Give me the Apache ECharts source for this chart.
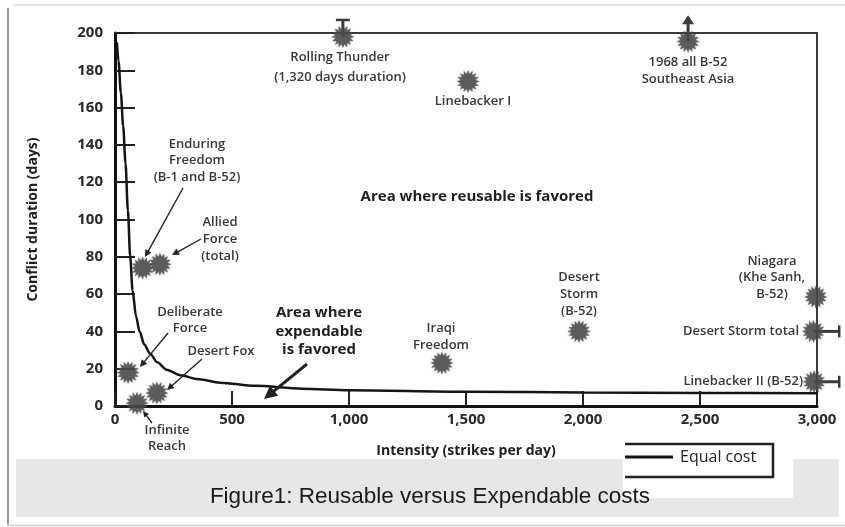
<!DOCTYPE html>
<html><head><meta charset="utf-8">
<script src="https://cdn.jsdelivr.net/npm/echarts@6/dist/echarts.min.js"></script>
<style>html,body{margin:0;padding:0;background:#fff}#c{width:845px;height:527px}</style>
</head><body><div id="c"></div>
<script>
// ---- data ----
const xTicks = [0, 500, 1000, 1500, 2000, 2500, 3000];
const yTicks = [0, 20, 40, 60, 80, 100, 120, 140, 160, 180, 200];
const curveX = [8, 15, 25, 35, 45, 55, 65, 75, 90, 105, 125, 150, 180, 220, 280, 350, 450, 600, 800, 1000, 1500, 2000, 2500, 3000];
const curveY = [195, 185, 168, 150, 130, 105, 80, 62, 48, 40, 33, 28, 23.5, 19.5, 16.5, 14.5, 12.5, 10.8, 9.3, 8.5, 7.7, 7.3, 7.0, 6.8];
const conflictNames = ['Rolling Thunder', 'Linebacker I', '1968 all B-52 Southeast Asia', 'Enduring Freedom (B-1 and B-52)', 'Allied Force (total)', 'Deliberate Force', 'Desert Fox', 'Infinite Reach', 'Iraqi Freedom', 'Desert Storm (B-52)', 'Niagara (Khe Sanh, B-52)', 'Desert Storm total', 'Linebacker II (B-52)'];
const conflictX = [974, 1509, 2449, 118, 192, 56, 179, 94, 1397, 1983, 2995, 2985, 2988];
const conflictY = [198, 174, 195.5, 74, 76, 18, 7, 1.5, 23, 40, 58.5, 40, 13];
// values that run off the chart: bar from the point to the edge
const extFromX = [974, 2449, 2985, 2988];
const extFromY = [198, 195.5, 40, 13];
const extToX = [974, 2449, 3095, 3095];
const extToY = [207, 208.5, 40, 13];
const extEnd = ['cap', 'arrow', 'cap', 'cap'];
const seriesName = 'Equal cost';

// ---- chart ----
const chart = echarts.init(document.getElementById('c'), null, {renderer: 'canvas'});
function starPath(n, rOut, rIn) {
  let d = '';
  for (let i = 0; i < 2 * n; i++) {
    const r = i % 2 ? rIn : rOut;
    const a = Math.PI * i / n - Math.PI / 2;
    d += (i ? 'L' : 'M') + (50 + r * Math.cos(a)).toFixed(2) + ' ' + (50 + r * Math.sin(a)).toFixed(2);
  }
  return 'path://' + d + 'Z';
}
const STAR = starPath(16, 50, 33);
const FONT = '"Open Sans", "Noto Sans", sans-serif';
const fmt = v => v >= 1000 ? Math.floor(v / 1000) + ',' + String(v % 1000).padStart(3, '0') : String(v);

const curveData = curveX.map((x, i) => [x, curveY[i]]);
const conflictData = conflictX.map((x, i) => ({name: conflictNames[i], value: [x, conflictY[i]]}));
const extData = extFromX.map((x, i) => [x, extFromY[i], extToX[i], extToY[i], i]);

// annotation text (pixel layout)
const notes = [
  {t: ['Rolling Thunder', '(1,320 days duration)'], x: 340, y: 57, lh: 20},
  {t: ['Linebacker I'], x: 473, y: 101},
  {t: ['1968 all B-52', 'Southeast Asia'], x: 688, y: 62, lh: 17},
  {t: ['Enduring', 'Freedom', '(B-1 and B-52)'], x: 197, y: 144, lh: 16.5},
  {t: ['Allied', 'Force', '(total)'], x: 220, y: 222.5, lh: 16.8},
  {t: ['Deliberate', 'Force'], x: 190, y: 312, lh: 16.5},
  {t: ['Desert Fox'], x: 221, y: 351},
  {t: ['Infinite', 'Reach'], x: 167, y: 430, lh: 16.7},
  {t: ['Iraqi', 'Freedom'], x: 441, y: 328, lh: 17},
  {t: ['Desert', 'Storm', '(B-52)'], x: 579, y: 277, lh: 17},
  {t: ['Niagara', '(Khe Sanh,', 'B-52)'], x: 772, y: 261, lh: 16.5},
  {t: ['Desert Storm total'], x: 799, y: 331, align: 'right'},
  {t: ['Linebacker II (B-52)'], x: 803, y: 381, align: 'right'}
];
const arrows = [
  {a: [183, 188], b: [145, 257], w: 1.4, h: 7},
  {a: [201, 239], b: [172, 255], w: 1.4, h: 7},
  {a: [168, 333], b: [140, 367], w: 1.4, h: 7},
  {a: [202, 359], b: [167, 390], w: 1.4, h: 7},
  {a: [152, 423], b: [143, 411], w: 1.4, h: 6},
  {a: [307, 364], b: [264, 399], w: 3, h: 13}
];

const graphics = [];
// outer frame & caption band
graphics.push({type: 'line', shape: {x1: 8, y1: 8, x2: 8, y2: 525}, style: {stroke: '#9a9a9a', lineWidth: 2}, z: 1});
graphics.push({type: 'line', shape: {x1: 14, y1: 5, x2: 845, y2: 5}, style: {stroke: '#e2e2e2', lineWidth: 2}, z: 1});
graphics.push({type: 'line', shape: {x1: 8, y1: 525.5, x2: 845, y2: 525.5}, style: {stroke: '#d0d0d0', lineWidth: 1.5}, z: 1});
graphics.push({type: 'rect', shape: {x: 16, y: 459, width: 823, height: 58}, style: {fill: '#e7e7e7'}, z: 0});
graphics.push({type: 'rect', shape: {x: 623, y: 440, width: 170, height: 58}, style: {fill: '#ffffff'}, z: 1});
graphics.push({type: 'polyline', shape: {points: [[625, 444], [773, 444], [773, 477], [625, 477]]}, style: {stroke: '#222', lineWidth: 2.5, fill: null}, z: 2});
graphics.push({type: 'text', x: 430, y: 497, style: {text: 'Figure1: Reusable versus Expendable costs', font: '22.5px "Liberation Sans Narrow", "Liberation Sans", Arial, sans-serif', fill: '#1a1a1a', textAlign: 'center', textVerticalAlign: 'middle'}, z: 3});
// region labels
graphics.push({type: 'text', x: 477, y: 197, style: {text: 'Area where reusable is favored', font: 'bold 15px ' + FONT, fill: '#1e1e1e', textAlign: 'center', textVerticalAlign: 'middle'}, z: 5});
['Area where', 'expendable', 'is favored'].forEach((s, i) => graphics.push({type: 'text', x: 319, y: 313 + i * 18.5, style: {text: s, font: 'bold 15px ' + FONT, fill: '#1e1e1e', textAlign: 'center', textVerticalAlign: 'middle'}, z: 5}));
notes.forEach(n => n.t.forEach((s, i) => graphics.push({type: 'text', x: n.x, y: n.y + i * (n.lh || 17), style: {text: s, font: '600 13px ' + FONT, fill: '#383838', textAlign: n.align || 'center', textVerticalAlign: 'middle'}, z: 5})));
arrows.forEach(r => {
  const dx = r.b[0] - r.a[0], dy = r.b[1] - r.a[1], L = Math.hypot(dx, dy);
  const ux = dx / L, uy = dy / L, px = -uy, py = ux, h = r.h, wh = h * 0.5;
  const bx = r.b[0] - ux * h, by = r.b[1] - uy * h;
  graphics.push({type: 'line', shape: {x1: r.a[0], y1: r.a[1], x2: bx + ux * 2, y2: by + uy * 2}, style: {stroke: '#222', lineWidth: r.w}, z: 6});
  graphics.push({type: 'polygon', shape: {points: [[r.b[0], r.b[1]], [bx + px * wh, by + py * wh], [bx - px * wh, by - py * wh]]}, style: {fill: '#222'}, z: 6});
});

const option = {
  animation: false,
  backgroundColor: '#ffffff',
  grid: {left: 115, right: 28, top: 33, bottom: 121, show: true, borderColor: '#3a3a3a', borderWidth: 2},
  legend: {
    data: [seriesName], left: 625, top: 449, padding: 0, itemWidth: 48, itemHeight: 3, itemGap: 6,
    icon: 'rect', textStyle: {fontFamily: FONT, fontSize: 16, color: '#222', padding: [0, 0, 0, 2]}
  },
  xAxis: {
    type: 'value', min: xTicks[0], max: xTicks[xTicks.length - 1], interval: 500,
    name: 'Intensity (strikes per day)', nameLocation: 'middle', nameGap: 38,
    nameTextStyle: {fontFamily: FONT, fontWeight: 'bold', fontSize: 14, color: '#1e1e1e'},
    axisLine: {lineStyle: {color: '#111', width: 3}},
    axisTick: {inside: true, length: 15, lineStyle: {color: '#222', width: 2}},
    axisLabel: {formatter: fmt, fontFamily: FONT, fontWeight: 'bold', fontSize: 15, color: '#2a2a2a', margin: 6},
    splitLine: {show: false}
  },
  yAxis: {
    type: 'value', min: yTicks[0], max: yTicks[yTicks.length - 1], interval: 20,
    name: 'Conflict duration (days)', nameLocation: 'middle', nameGap: 75, nameRotate: 90,
    nameTextStyle: {fontFamily: FONT, fontWeight: 'bold', fontSize: 14, color: '#1e1e1e'},
    axisLine: {show: true, lineStyle: {color: '#111', width: 3}},
    axisTick: {show: true, inside: true, length: 20, lineStyle: {color: '#222', width: 2}},
    axisLabel: {fontFamily: FONT, fontWeight: 'bold', fontSize: 15, color: '#2a2a2a', margin: 12},
    splitLine: {show: false}
  },
  series: [
    {
      name: seriesName, type: 'line', data: curveData, showSymbol: false, smooth: 0.3, smoothMonotone: 'x',
      lineStyle: {color: '#151515', width: 2.5}, itemStyle: {color: '#151515'}, z: 3, clip: false
    },
    {
      name: 'Conflicts', type: 'custom', data: extData, clip: false, z: 4,
      renderItem: (params, api) => {
        const p1 = api.coord([api.value(0), api.value(1)]);
        const p2 = api.coord([api.value(2), api.value(3)]);
        const kind = extEnd[api.value(4)];
        const horiz = Math.abs(p2[0] - p1[0]) > Math.abs(p2[1] - p1[1]);
        const ch = [];
        ch.push({type: 'line', shape: {x1: p1[0], y1: p1[1], x2: p2[0], y2: p2[1]}, style: {stroke: '#3a3a3a', lineWidth: 3}});
        if (kind === 'cap') {
          ch.push({type: 'line', shape: horiz ? {x1: p2[0], y1: p2[1] - 6, x2: p2[0], y2: p2[1] + 6} : {x1: p2[0] - 7, y1: p2[1], x2: p2[0] + 7, y2: p2[1]}, style: {stroke: '#3a3a3a', lineWidth: 2.5}});
        } else {
          ch.push({type: 'polygon', shape: {points: [[p2[0], p2[1] - 2], [p2[0] - 6, p2[1] + 7], [p2[0] + 6, p2[1] + 7]]}, style: {fill: '#3a3a3a'}});
        }
        return {type: 'group', children: ch};
      }
    },
    {
      name: 'Conflict', type: 'scatter', data: conflictData, symbol: STAR, symbolSize: 23, clip: false, z: 5,
      itemStyle: {color: '#4a4a4a', shadowBlur: 2, shadowColor: 'rgba(60,60,60,0.6)'}
    }
  ],
  graphic: graphics
};
chart.setOption(option);
</script>
</body></html>
